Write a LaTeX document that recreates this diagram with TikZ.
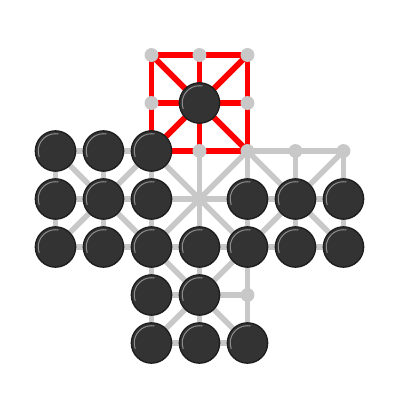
\documentclass[tikz,border=0pt]{standalone}
\definecolor{railgray}{HTML}{C8C8C8}
\definecolor{pegfill}{HTML}{333333}
\definecolor{pegrim}{HTML}{1E1E1E}
\definecolor{pegshine}{HTML}{8C8C8C}
\begin{document}
\begin{tikzpicture}[
  rail/.style={draw=railgray,line width=3.2pt},
  hot/.style={draw=red,line width=3.4pt},
  hole/.style={circle,fill=railgray,inner sep=0pt,minimum size=0.29cm},
  peg/.style={circle,fill=pegfill,draw=pegrim,line width=0.8pt,inner sep=0pt,minimum size=0.84cm,
    path picture={\draw[pegshine,line width=0.6pt] (path picture bounding box.center) ++(80:0.36) arc (80:200:0.36);}}
]
\useasboundingbox (-1.156,1.146) rectangle (7.219,-7.229);
% board points
\foreach \r in {0,1,5,6} \foreach \c in {2,3,4} \coordinate (p\c\r) at (\c,-\r);
\foreach \r in {2,3,4} \foreach \c in {0,...,6} \coordinate (p\c\r) at (\c,-\r);
% grey rails
\foreach \r in {0,1,5,6} \draw[rail] (p2\r) -- (p3\r) -- (p4\r);
\foreach \r in {2,3,4} \draw[rail] (p0\r) -- (p1\r) -- (p2\r) -- (p3\r) -- (p4\r) -- (p5\r) -- (p6\r);
\foreach \c in {2,3,4} \draw[rail] (p\c0) -- (p\c1) -- (p\c2) -- (p\c3) -- (p\c4) -- (p\c5) -- (p\c6);
\foreach \c in {0,1,5,6} \draw[rail] (p\c2) -- (p\c3) -- (p\c4);
\foreach \a/\b in {31/20,31/40,31/22,31/42, 13/02,13/22,13/04,13/24, 33/22,33/42,33/24,33/44,
  53/42,53/62,53/44,53/64, 35/24,35/44,35/26,35/46}
  \draw[rail] (p\a) -- (p\b);
% red top arm
\draw[hot] (p20) -- (p40) -- (p42) -- (p22) -- cycle;
\draw[hot] (p21) -- (p41);
\draw[hot] (p30) -- (p32);
\draw[hot] (p20) -- (p42);
\draw[hot] (p40) -- (p22);
% holes and pegs
\foreach \p in {20,30,40,21,41,32,42,52,62,45} \node[hole] (h\p) at (p\p) {};
\foreach \p in {31,02,12,22,03,13,23,43,53,63,04,14,24,34,44,54,64,25,35,26,36,46}
  \node[peg] (k\p) at (p\p) {};
\end{tikzpicture}
\end{document}
